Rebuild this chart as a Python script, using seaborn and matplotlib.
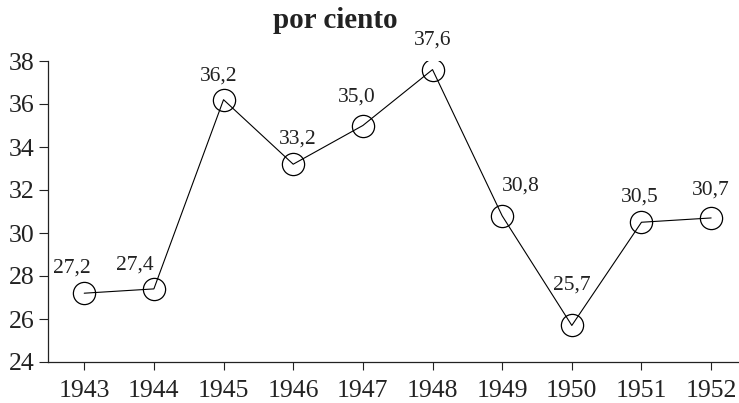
import numpy as np
import pandas as pd
import seaborn as sns
import matplotlib.pyplot as plt

# datos
anios = [1943, 1944, 1945, 1946, 1947, 1948, 1949, 1950, 1951, 1952]
porcentajes = [27.2, 27.4, 36.2, 33.2, 35.0, 37.6, 30.8, 25.7, 30.5, 30.7]
marcas_y = [24, 26, 28, 30, 32, 34, 36, 38]
titulo = "por ciento"

# desplazamiento de las etiquetas (pixeles)
desplaz = [(-12, 25), (-19, 24), (-5, 24), (4, 25), (-6, 28),
           (0, 30), (19, 30), (0, 40), (-2, 25), (0, 28)]

sns.set_style("ticks")
plt.rcParams['font.family'] = ['Liberation Serif', 'DejaVu Serif']

df = pd.DataFrame({"anio": anios, "valor": porcentajes})

fig = plt.figure(figsize=(7.39, 4.03), dpi=100)
ax = fig.add_axes([48 / 739, 1 - 362 / 403, 1 - 48 / 739, (362 - 61) / 403])

sns.lineplot(data=df, x="anio", y="valor", ax=ax, color="black", lw=0.8,
             marker="o", markersize=16, markerfacecolor="none",
             markeredgecolor="black", markeredgewidth=0.9)

for a, v, (dx, dy) in zip(anios, porcentajes, desplaz):
    ax.annotate(f"{v:.1f}".replace(".", ","), (a, v), xytext=(dx, dy),
                textcoords="offset pixels", ha="center", va="center",
                fontsize=15.5, color="#222222")

ax.set_xlim(1942.48, 1952.40)
ax.set_ylim(24, 38)
ax.set_xticks(anios)
ax.set_yticks(marcas_y)
ax.set_xlabel("")
ax.set_ylabel("")
ax.tick_params(axis="both", labelsize=18.5, colors="#222222", width=0.8)
ax.tick_params(axis="x", length=6, pad=7)
ax.tick_params(axis="y", length=6.5, pad=3)
sns.despine(ax=ax)
for s in ["left", "bottom"]:
    ax.spines[s].set_linewidth(0.9)
    ax.spines[s].set_color("#222222")

fig.text(335 / 739, 1 - 28 / 403, titulo, ha="center", va="baseline",
         fontsize=21, fontweight="bold", color="#222222")

fig.savefig("out.png", dpi=100)
